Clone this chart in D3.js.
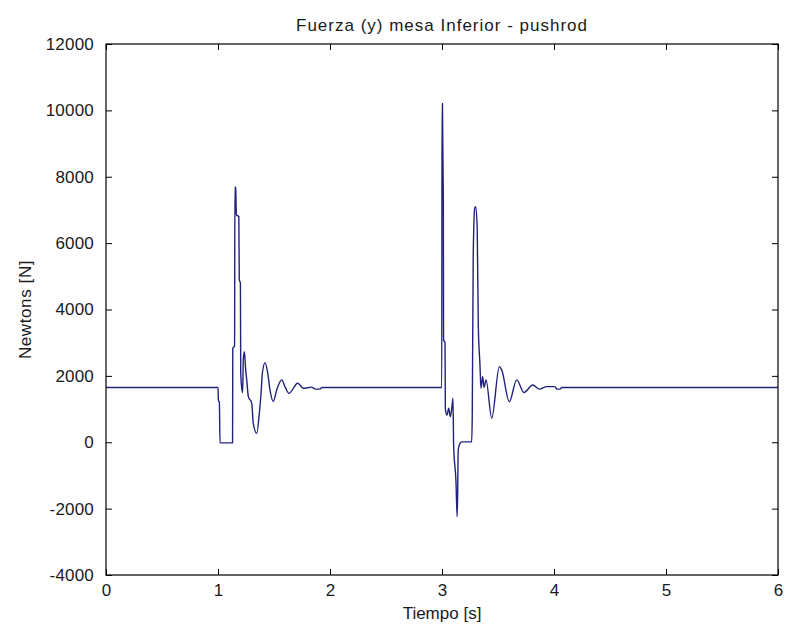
<!DOCTYPE html>
<html>
<head>
<meta charset="utf-8">
<script src="https://cdn.jsdelivr.net/npm/d3@7"></script>
<style>
  html, body { margin: 0; padding: 0; background: #ffffff; }
  svg { display: block; }
  text { font-family: "Liberation Sans", Arial, sans-serif; fill: #1a1a1a; }
</style>
</head>
<body>
<div id="chart"></div>
<script>
// Pushrod force on the lower table (y component) over time
const timeS = [
  0, 1.000, 1.004, 1.012, 1.018, 1.130, 1.132, 1.148, 1.151, 1.158,
  1.164, 1.186, 1.190, 1.200, 1.203, 1.212, 1.220, 1.226, 1.236, 1.247,
  1.256, 1.271, 1.301, 1.315, 1.346, 1.369, 1.385, 1.396, 1.420, 1.444,
  1.464, 1.494, 1.524, 1.569, 1.598, 1.634, 1.712, 1.762, 1.837, 1.870,
  1.911, 1.930, 2.998, 3.000, 3.004, 3.012, 3.014, 3.027, 3.030, 3.045,
  3.060, 3.074, 3.089, 3.098, 3.104, 3.125, 3.135, 3.140, 3.145, 3.160,
  3.175, 3.265, 3.270, 3.279, 3.292, 3.300, 3.314, 3.324, 3.339, 3.348,
  3.363, 3.375, 3.393, 3.444, 3.512, 3.533, 3.601, 3.667, 3.732, 3.810,
  3.869, 3.935, 4.009, 4.024, 4.054, 4.069, 6.000
];
const forceN = [
  1650, 1650, 1250, 1220, -20, -20, 2830, 2900, 7700, 7650,
  6850, 6800, 4890, 4800, 2080, 1640, 1500, 2500, 2730, 2180,
  1900, 1375, 1180, 570, 270, 870, 1500, 2080, 2400, 2080,
  1575, 1225, 1575, 1880, 1675, 1475, 1780, 1625, 1660, 1600,
  1600, 1650, 1650, 10200, 10200, 7300, 3080, 3000, 1000, 820,
  1025, 770, 1070, 1325, -100, -1200, -2240, -1500, -230, -40,
  10, 10, 770, 5640, 7050, 7100, 6500, 3530, 2330, 1625,
  1980, 1650, 1880, 725, 2280, 2180, 1225, 1880, 1500, 1725,
  1600, 1675, 1675, 1600, 1600, 1650, 1650
];

const xTicks = [0, 1, 2, 3, 4, 5, 6];
const yTicks = [-4000, -2000, 0, 2000, 4000, 6000, 8000, 10000, 12000];
const xDomain = [0, 6];
const yDomain = [-4000, 12000];

const titleText = "Fuerza (y) mesa Inferior - pushrod";
const xLabelText = "Tiempo [s]";
const yLabelText = "Newtons [N]";

const width = 787, height = 635;
const margin = { top: 44, right: 9, bottom: 60, left: 106 };
const innerW = width - margin.left - margin.right;
const innerH = height - margin.top - margin.bottom;
const tickLen = 6;
const fontFamily = "'Liberation Sans', Arial, sans-serif";

const svg = d3.select("#chart").append("svg")
  .attr("width", width)
  .attr("height", height);

const x = d3.scaleLinear().domain(xDomain).range([0, innerW]);
const y = d3.scaleLinear().domain(yDomain).range([innerH, 0]);

const g = svg.append("g").attr("transform", `translate(${margin.left},${margin.top})`);

// Data trace
const pts = timeS.map((t, i) => [t, forceN[i]]);
const line = d3.line().x(d => x(d[0])).y(d => y(d[1])).curve(d3.curveMonotoneX);
g.append("path")
  .datum(pts)
  .attr("fill", "none")
  .attr("stroke", "#22227e")
  .attr("stroke-width", 1.4)
  .attr("d", line);

// Plain hyphen minus for negative tick labels
const plainFmt = d => String(d);

// Axes with inward ticks on all four sides
function styleAxis(sel, hideText) {
  sel.select(".domain").remove();
  sel.selectAll(".tick line").attr("stroke", "#000").attr("stroke-width", 1);
  sel.selectAll(".tick text")
    .style("font-size", "17px")
    .style("font-family", fontFamily)
    .style("letter-spacing", "0.2px")
    .attr("fill", "#1a1a1a");
  if (hideText) sel.selectAll(".tick text").remove();
}

g.append("g")
  .attr("transform", `translate(0,${innerH})`)
  .call(d3.axisBottom(x).tickValues(xTicks).tickFormat(plainFmt)
    .tickSizeInner(-tickLen).tickSizeOuter(0).tickPadding(9))
  .call(s => styleAxis(s, false));

g.append("g")
  .call(d3.axisTop(x).tickValues(xTicks).tickSizeInner(-tickLen).tickSizeOuter(0))
  .call(s => styleAxis(s, true));

g.append("g")
  .call(d3.axisLeft(y).tickValues(yTicks).tickFormat(plainFmt)
    .tickSizeInner(-tickLen).tickSizeOuter(0).tickPadding(tickLen + 6))
  .call(s => styleAxis(s, false));

g.append("g")
  .attr("transform", `translate(${innerW},0)`)
  .call(d3.axisRight(y).tickValues(yTicks).tickSizeInner(-tickLen).tickSizeOuter(0))
  .call(s => styleAxis(s, true));

// Axes box
g.append("rect")
  .attr("x", 0).attr("y", 0)
  .attr("width", innerW).attr("height", innerH)
  .attr("fill", "none")
  .attr("stroke", "#000")
  .attr("stroke-width", 1.2);

// Title and axis labels
svg.append("text")
  .attr("x", margin.left + innerW / 2)
  .attr("y", 31)
  .attr("text-anchor", "middle")
  .style("font-size", "17px")
  .style("letter-spacing", "1px")
  .text(titleText);

svg.append("text")
  .attr("x", margin.left + innerW / 2)
  .attr("y", 619)
  .attr("text-anchor", "middle")
  .style("font-size", "17px")
  .text(xLabelText);

svg.append("text")
  .attr("transform", `translate(31,${margin.top + innerH / 2}) rotate(-90)`)
  .attr("text-anchor", "middle")
  .style("font-size", "17px")
  .style("letter-spacing", "0.6px")
  .text(yLabelText);
</script>
</body>
</html>
